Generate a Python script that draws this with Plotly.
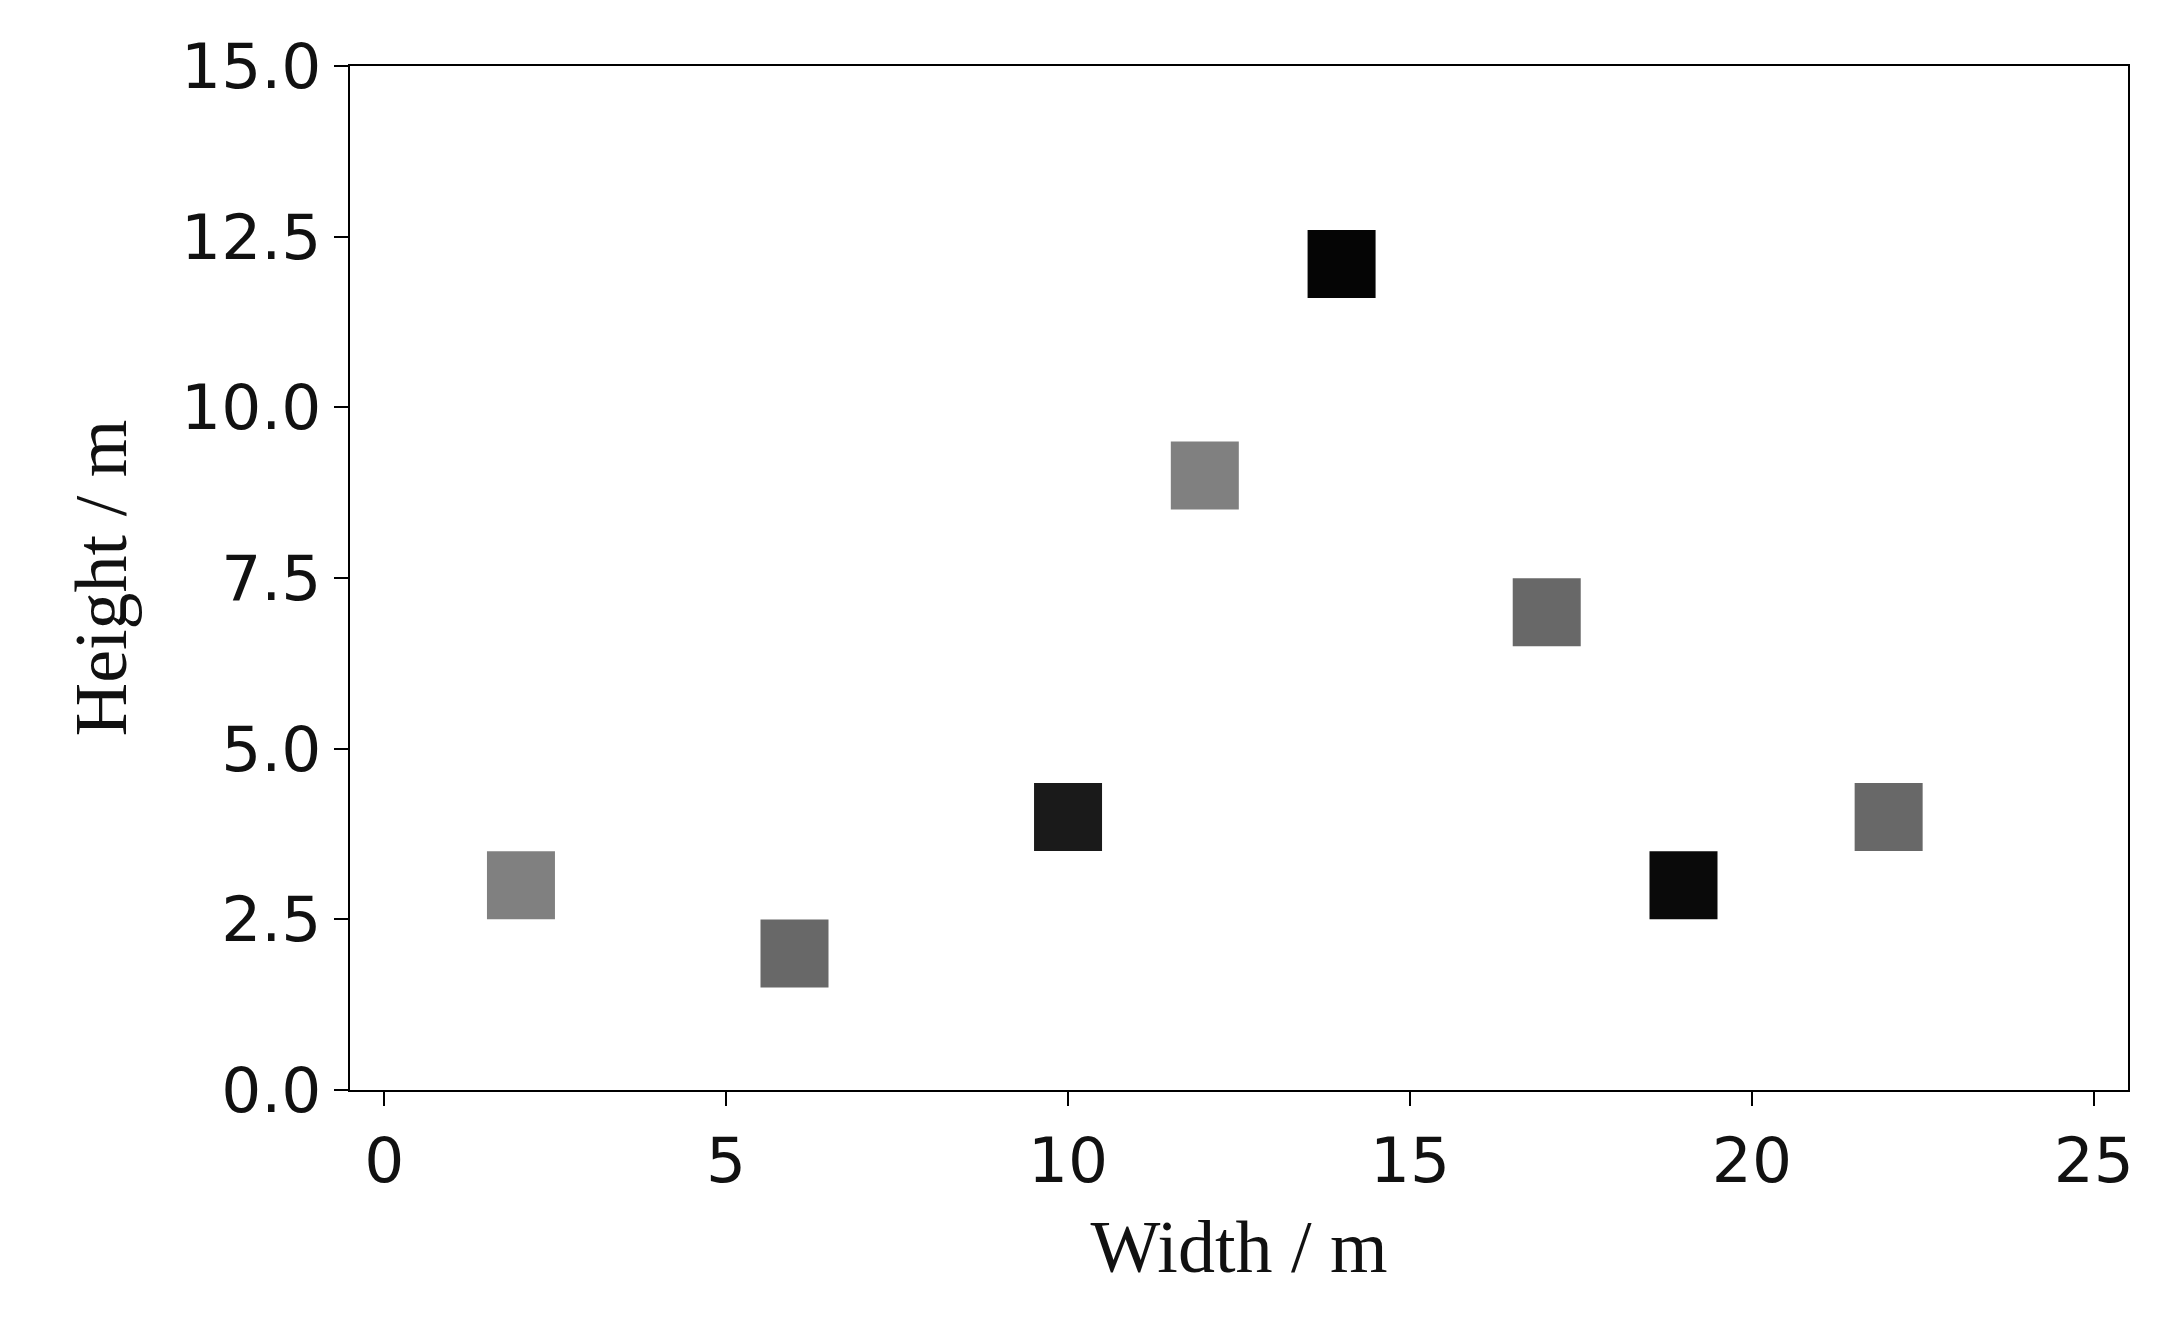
import plotly.graph_objects as go

widths = [2, 6, 10, 12, 14, 17, 19, 22]
heights = [3, 2, 4, 9, 12.1, 7, 3, 4]
colors = ["#808080", "#686868", "#1a1a1a", "#808080", "#050505", "#686868", "#0a0a0a", "#686868"]

fig = go.Figure(go.Scatter(
    x=widths, y=heights, mode="markers",
    marker=dict(symbol="square", size=68, color=colors, line=dict(width=0)),
))
axis_common = dict(showgrid=False, zeroline=False, showline=True, linecolor="black", linewidth=2,
                   mirror=True, ticks="outside", ticklen=14, tickwidth=2, tickcolor="black",
                   tickfont=dict(family="DejaVu Sans", size=63, color="#111"))
fig.update_xaxes(range=[-0.5, 25.5], tickvals=[0, 5, 10, 15, 20, 25],
                 title=dict(text="Width / m", font=dict(family="Liberation Serif", size=74, color="#111"), standoff=25),
                 **axis_common)
fig.update_yaxes(range=[0, 15], tickvals=[0, 2.5, 5, 7.5, 10, 12.5, 15], tickformat=".1f",
                 title=dict(text="Height / m", font=dict(family="Liberation Serif", size=74, color="#111"), standoff=30),
                 **axis_common)
fig.update_layout(width=2164, height=1324, plot_bgcolor="white", paper_bgcolor="white",
                  margin=dict(l=342, r=44, t=58, b=242), showlegend=False)
fig.write_html("out.html")
